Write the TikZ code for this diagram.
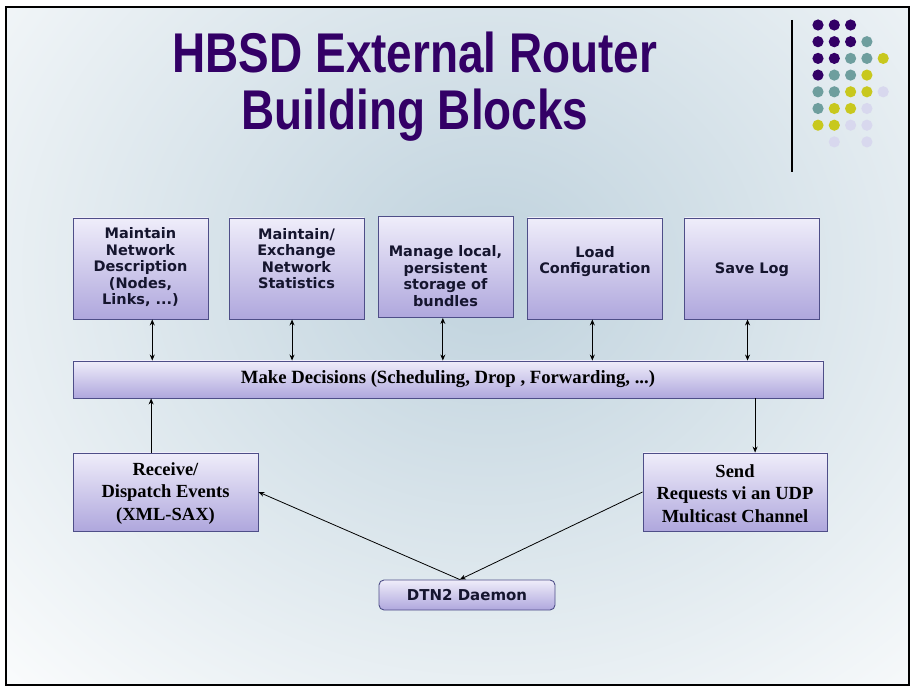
\documentclass[tikz,border=0pt]{standalone}
\usepackage{fontspec}
\usepackage{tikz}
\usetikzlibrary{arrows.meta}

\newfontfamily\titlefont[FakeStretch=0.82]{Liberation Sans Bold}
\newfontfamily\blockfont{DejaVu Sans Bold}
\newfontfamily\eventfont{Liberation Serif Bold}

\definecolor{titlepurple}{HTML}{330066}
\definecolor{dotteal}{HTML}{6E9E9E}
\definecolor{dotyellow}{HTML}{C8C81E}
\definecolor{dotlilac}{HTML}{D8D8EE}
\definecolor{bgblue}{HTML}{BFD2DD}
\definecolor{blocktop}{HTML}{EFEDFA}
\definecolor{blockbot}{HTML}{AFA7DD}
\definecolor{blockline}{HTML}{4E4E88}
\definecolor{blocktext}{HTML}{15152E}

\tikzset{
  block/.style={draw=blockline, line width=0.9pt, top color=blocktop, bottom color=blockbot,
    inner sep=0pt, align=center, text=blocktext},
  topblock/.style={block, minimum width=135pt, minimum height=101pt},
  blocklabel/.style={inner sep=0pt, align=center, text=blocktext,
    font=\blockfont\fontsize{14.5pt}{16.5pt}\selectfont},
  eventblock/.style={block, minimum width=184pt, minimum height=78pt, text=black,
    font=\eventfont\fontsize{18.5pt}{22.5pt}\selectfont},
  twoway/.style={line width=0.8pt, {Stealth[length=6pt,width=5pt]}-{Stealth[length=6pt,width=5pt]}},
  oneway/.style={line width=0.8pt, -{Stealth[length=6pt,width=5pt]}},
}

\begin{document}
\begin{tikzpicture}[x=1pt, y=-1pt]
            \useasboundingbox (0,0) rectangle (916,692);
            %
            \begin{scope}
              \clip (6,7) rectangle (909,685);
              \fill[white] (6,7) rectangle (909,685);
              \shade[inner color=bgblue, outer color=white] (490,270) ellipse [x radius=740, y radius=640];
            \end{scope}
            \draw[line width=1.8pt] (6,7) rectangle (909,685);
            %
            \draw[line width=1.4pt] (792,20) -- (792,172);
            \foreach \col/\row/\clr in {0/0/titlepurple, 1/0/titlepurple, 2/0/titlepurple,
                0/1/titlepurple, 1/1/titlepurple, 2/1/titlepurple, 3/1/dotteal,
                0/2/titlepurple, 1/2/titlepurple, 2/2/dotteal, 3/2/dotteal, 4/2/dotyellow,
                0/3/titlepurple, 1/3/dotteal, 2/3/dotteal, 3/3/dotyellow,
                0/4/dotteal, 1/4/dotteal, 2/4/dotyellow, 3/4/dotyellow, 4/4/dotlilac,
                0/5/dotteal, 1/5/dotyellow, 2/5/dotyellow, 3/5/dotlilac,
                0/6/dotyellow, 1/6/dotyellow, 2/6/dotlilac, 3/6/dotlilac,
                1/7/dotlilac, 3/7/dotlilac}
              \fill[\clr] (818+16.3*\col, 25+16.7*\row) circle[radius=5.6];
            %
            \node[anchor=base, text=titlepurple, font=\titlefont\fontsize{56pt}{60pt}\selectfont]
              (title1) at (415,73) {HBSD External Router};
            \node[anchor=base, text=titlepurple, font=\titlefont\fontsize{56pt}{60pt}\selectfont]
              (title2) at (415,130) {Building Blocks};
            %
            \node[topblock] (netdesc) at (140.5,268.5) {};
            \node[topblock] (netstats) at (296.5,268.5) {};
            \node[topblock] (storage) at (445.5,267) {};
            \node[topblock] (loadcfg) at (595,268.5) {};
            \node[topblock] (savelog) at (752,268.5) {};
            \node[blocklabel] (netdesc text) at ([yshift=1pt]netdesc.center) {Maintain\\Network\\Description\\(Nodes,\\Links, ...)};
            \node[blocklabel] (netstats text) at ([yshift=10pt]netstats.center) {Maintain/\\Exchange\\Network\\Statistics};
            \node[blocklabel] (storage text) at ([yshift=-9pt]storage.center) {Manage local,\\persistent\\storage of\\bundles};
            \node[blocklabel] (loadcfg text) at ([yshift=7pt]loadcfg.center) {Load\\Configuration};
            \node[blocklabel] (savelog text) at ([yshift=-1pt]savelog.center) {Save Log};
            %
            \node[block, minimum width=750pt, minimum height=37pt, text=black,
              font=\eventfont\fontsize{18.7pt}{22pt}\selectfont]
              (decide) at (448,379.5) {Make Decisions (Scheduling, Drop , Forwarding, ...)};
            %
            \node[eventblock, minimum width=185pt] (receive) at (165.5,492) {\strut Receive/\\Dispatch Events\\(XML-SAX)};
            \node[eventblock] (send) at (735,492) {\strut Send\\Requests vi an UDP\\Multicast Channel};
            \node[block, rounded corners=5pt, minimum width=176pt, minimum height=30pt,
              font=\blockfont\fontsize{15pt}{18pt}\selectfont]
              (daemon) at (467,595) {DTN2 Daemon};
            %
            \draw[twoway] (netdesc.-77) -- (netdesc.-77 |- decide.north);
            \draw[twoway] (netstats.-95) -- (netstats.-95 |- decide.north);
            \draw[twoway] (storage.-93) -- (storage.-93 |- decide.north);
            \draw[twoway] (loadcfg.-93) -- (loadcfg.-93 |- decide.north);
            \draw[twoway] (savelog.-95) -- (savelog.-95 |- decide.north);
            %
            \draw[oneway] (receive.110) -- (receive.110 |- decide.south);
            \draw[oneway] (decide.south -| send.63) -- (send.63);
            %
            \draw[oneway] (send.west) -- (daemon.115);
            \draw[oneway] (daemon.115) -- (receive.east);
        \end{tikzpicture}
\end{document}
